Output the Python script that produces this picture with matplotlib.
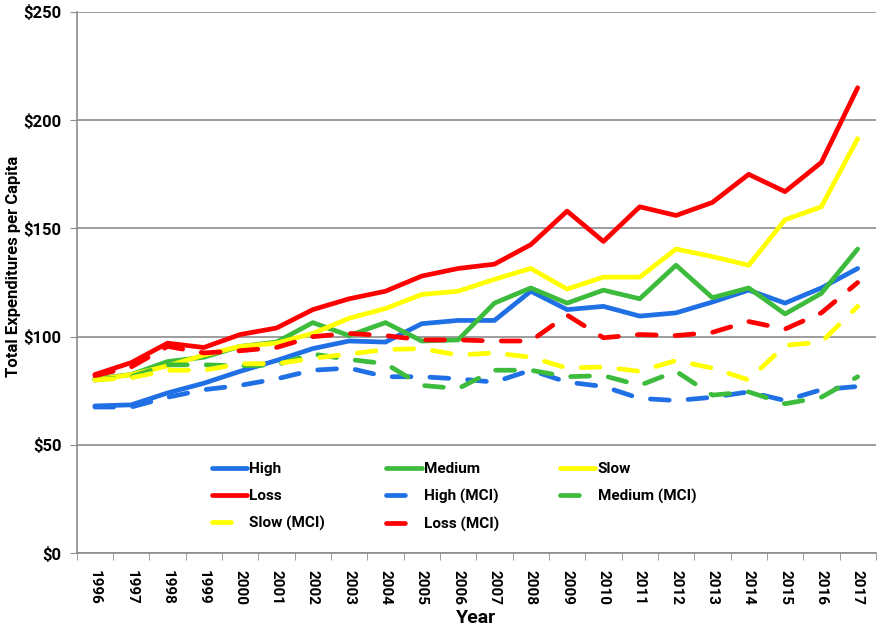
import matplotlib.pyplot as plt
from matplotlib.ticker import FixedLocator, FuncFormatter

years = [str(y) for y in range(1996, 2018)]

high = [68, 68.5, 74, 78.5, 84, 89, 94.5, 98, 97.5, 106, 107.5, 107.5, 121, 112.5, 114, 109.5, 111, 116, 121.5, 115.5, 122.5, 131.5]
medium = [80.5, 82.5, 88.5, 90.5, 95.5, 97.5, 106.5, 100.5, 106.5, 98, 98.5, 115.5, 122.5, 115.5, 121.5, 117.5, 133, 118, 122.5, 110.5, 120, 140.5]
slow = [80, 82.5, 86.5, 91.5, 95.5, 97, 101.5, 108.5, 113, 119.5, 121, 126.5, 131.5, 122, 127.5, 127.5, 140.5, 137, 133, 154, 160, 191.5]
loss = [82.5, 88, 97, 95, 101, 104, 112.5, 117.5, 121, 128, 131.5, 133.5, 142.5, 158, 144, 160, 156, 162, 175, 167, 180.5, 215]

high_mci = [67.5, 67.5, 72, 75.5, 77.5, 80.5, 84.5, 85.5, 81.5, 81.5, 80.5, 79, 84.5, 79, 77, 71.5, 70.5, 72, 74.5, 70.5, 75.5, 77]
medium_mci = [80, 81.5, 87, 87, 86.5, 87, 92, 89.5, 87.5, 77.5, 76, 84.5, 84.5, 81.5, 82, 77.5, 84, 73, 74.5, 69, 72, 81.5]
slow_mci = [80, 81, 84.5, 84.5, 87.5, 87.5, 90, 92, 94, 94.5, 91.5, 92.5, 90.5, 85.5, 86, 84, 89, 85.5, 80, 96, 97.5, 114]
loss_mci = [82, 86, 95.5, 92.5, 93.5, 95, 100, 101.5, 100.5, 98.5, 98.5, 98, 98, 110, 99.5, 101, 100.5, 102, 107, 103.5, 111, 125]

blue = '#1F6FE5'
green = '#3DBB3D'
yellow = '#FFFF00'
red = '#FF0000'

plt.rcParams['font.family'] = ['Roboto', 'DejaVu Sans']
plt.rcParams['font.weight'] = 'bold'

fig = plt.figure(figsize=(8.82, 6.3), dpi=100)
ax = fig.add_axes([0.087, 0.122, 0.906, 0.859])

x = list(range(len(years)))
lw = 3.4
dash = (0, (4.0, 4.0))

h1, = ax.plot(x, high, color=blue, lw=lw, label='High', solid_capstyle='round')
h2, = ax.plot(x, medium, color=green, lw=lw, label='Medium', solid_capstyle='round')
h3, = ax.plot(x, slow, color=yellow, lw=lw, label='Slow', solid_capstyle='round')
h4, = ax.plot(x, loss, color=red, lw=lw, label='Loss', solid_capstyle='round')
h5, = ax.plot(x, high_mci, color=blue, lw=lw, ls=dash, label='High (MCI)', dash_capstyle='round')
h6, = ax.plot(x, medium_mci, color=green, lw=lw, ls=dash, label='Medium (MCI)', dash_capstyle='round')
h7, = ax.plot(x, slow_mci, color=yellow, lw=lw, ls=dash, label='Slow (MCI)', dash_capstyle='round')
h8, = ax.plot(x, loss_mci, color=red, lw=lw, ls=dash, label='Loss (MCI)', dash_capstyle='round')

ax.set_xlim(-0.5, len(years) - 0.5)
ax.set_ylim(0, 250)
ax.set_yticks([0, 50, 100, 150, 200, 250])
ax.yaxis.set_major_formatter(FuncFormatter(lambda v, p: f'${v:.0f}'))
ax.grid(axis='y', color='#8c8c8c', lw=1.2)
ax.set_axisbelow(True)

ax.set_xticks(x)
ax.set_xticklabels(years, rotation=-90, fontsize=11, fontweight='bold')
ax.xaxis.set_minor_locator(FixedLocator([i - 0.5 for i in range(len(years) + 1)]))
ax.tick_params(axis='x', which='major', length=0, pad=12)
ax.tick_params(axis='x', which='minor', length=5, color='#8c8c8c')
ax.tick_params(axis='y', length=5, color='#8c8c8c', labelsize=12, pad=6)
for lab in ax.get_yticklabels():
    lab.set_fontweight('bold')

for s in ['top', 'right']:
    ax.spines[s].set_visible(False)
for s in ['left', 'bottom']:
    ax.spines[s].set_color('#8c8c8c')
    ax.spines[s].set_linewidth(1.2)

ax.set_xlabel('Year', fontsize=14, fontweight='bold', labelpad=3)
ax.set_ylabel('Total Expenditures per Capita', fontsize=12, fontweight='bold')
ax.yaxis.set_label_coords(-0.07, 0.53)

handles = [h1, h4, h7, h2, h5, h8, h3, h6]
ax.legend(handles=handles, ncol=3, frameon=False, loc='upper left',
          bbox_to_anchor=(0.152, 0.194), fontsize=11, handlelength=2.3,
          handletextpad=0.15, columnspacing=4.0, labelspacing=0.85)

fig.savefig('out.png', dpi=100)
